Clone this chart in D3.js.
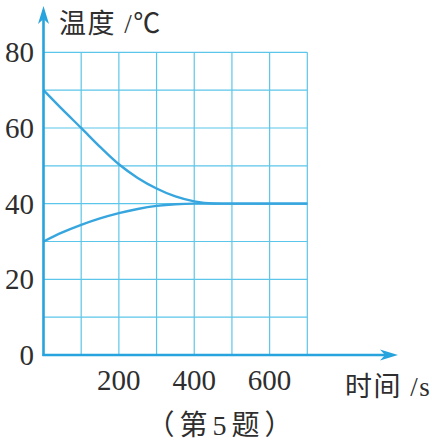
<!DOCTYPE html>
<html><head><meta charset="utf-8">
<script src="https://cdn.jsdelivr.net/npm/d3@7"></script>
<style>html,body{margin:0;padding:0;background:#fff;}svg{display:block;}</style>
</head><body>
<script>
// Data
const hotTime = [0, 50, 100, 150, 200, 250, 300, 350, 400, 450, 500, 600, 700];
const hotTemp = [70, 64.9, 60.0, 55.0, 50.4, 46.8, 44.0, 41.9, 40.6, 40.05, 40, 40, 40];
const coldTime = [0, 50, 100, 150, 200, 250, 300, 350, 400, 500, 600, 700];
const coldTemp = [30, 32.4, 34.4, 36.1, 37.5, 38.6, 39.4, 39.85, 40, 40, 40, 40];
const xTickLabels = [200, 400, 600];
const yTickLabels = [0, 20, 40, 60, 80];
const yTitle = "温度 /℃";
const xTitle = "时间 /s";
const caption = "（第5题）";

const W = 432, H = 447;
const svg = d3.select("body").append("svg").attr("width", W).attr("height", H);

const x = d3.scaleLinear().domain([0, 700]).range([43.5, 307.3]);
const y = d3.scaleLinear().domain([0, 80]).range([355, 52.3]);

const gridColor = "#5cc6ea";
const axisColor = "#27a3dd";
const curveColor = "#38a6de";
const textColor = "#2e2e2e";

// grid
const g = svg.append("g");
g.selectAll("line.v").data(d3.range(100, 701, 100)).join("line")
  .attr("x1", d => x(d)).attr("x2", d => x(d))
  .attr("y1", y(0)).attr("y2", y(80))
  .attr("stroke", gridColor).attr("stroke-width", 1.2);
g.selectAll("line.h").data(d3.range(10, 81, 10)).join("line")
  .attr("y1", d => y(d)).attr("y2", d => y(d))
  .attr("x1", x(0)).attr("x2", x(700))
  .attr("stroke", gridColor).attr("stroke-width", 1.2);

// curves
const line = d3.line().x(d => x(d[0])).y(d => y(d[1])).curve(d3.curveMonotoneX);
svg.append("path").datum(hotTime.map((t, i) => [t, hotTemp[i]]))
  .attr("d", line).attr("fill", "none").attr("stroke", curveColor).attr("stroke-width", 2.4);
svg.append("path").datum(coldTime.map((t, i) => [t, coldTemp[i]]))
  .attr("d", line).attr("fill", "none").attr("stroke", curveColor).attr("stroke-width", 2.4);

// axes
const x0 = x(0), y0 = y(0);
const yTop = 6, xEnd = 398;
svg.append("line").attr("x1", x0).attr("x2", x0).attr("y1", y0 + 1).attr("y2", yTop + 10)
  .attr("stroke", axisColor).attr("stroke-width", 2.6);
svg.append("line").attr("x1", x0 - 1).attr("x2", xEnd - 10).attr("y1", y0).attr("y2", y0)
  .attr("stroke", axisColor).attr("stroke-width", 2.6);
// arrowheads
svg.append("path")
  .attr("d", `M${x0},${yTop} L${x0 + 5.5},${yTop + 18} L${x0},${yTop + 13} L${x0 - 5.5},${yTop + 18} Z`)
  .attr("fill", axisColor);
svg.append("path")
  .attr("d", `M${xEnd},${y0} L${xEnd - 18},${y0 - 5.5} L${xEnd - 13},${y0} L${xEnd - 18},${y0 + 5.5} Z`)
  .attr("fill", axisColor);

// tick labels
const serif = "'Liberation Serif','Times New Roman',serif";
svg.selectAll("text.yt").data(yTickLabels).join("text")
  .attr("x", 34).attr("y", d => y(d) + 10)
  .attr("text-anchor", "end").attr("font-family", serif).attr("font-size", 29)
  .attr("fill", textColor).text(d => d);
svg.selectAll("text.xt").data(xTickLabels).join("text")
  .attr("x", d => x(d)).attr("y", 390)
  .attr("text-anchor", "middle").attr("font-family", serif).attr("font-size", 29)
  .attr("fill", textColor).text(d => d);

const mixed = "'Liberation Serif','Noto Sans CJK SC',serif";
svg.append("text").attr("x", 59).attr("y", 33)
  .attr("font-family", mixed).attr("font-size", 27).attr("letter-spacing", 1.5)
  .attr("fill", textColor).text(yTitle);
svg.append("text").attr("x", 345).attr("y", 396)
  .attr("font-family", mixed).attr("font-size", 27).attr("letter-spacing", 1.5)
  .attr("fill", textColor).text(xTitle);
svg.append("text").attr("x", 222).attr("y", 435).attr("text-anchor", "middle")
  .attr("font-family", mixed).attr("font-size", 28).attr("letter-spacing", 5)
  .attr("fill", textColor).text(caption);
</script>
</body></html>
